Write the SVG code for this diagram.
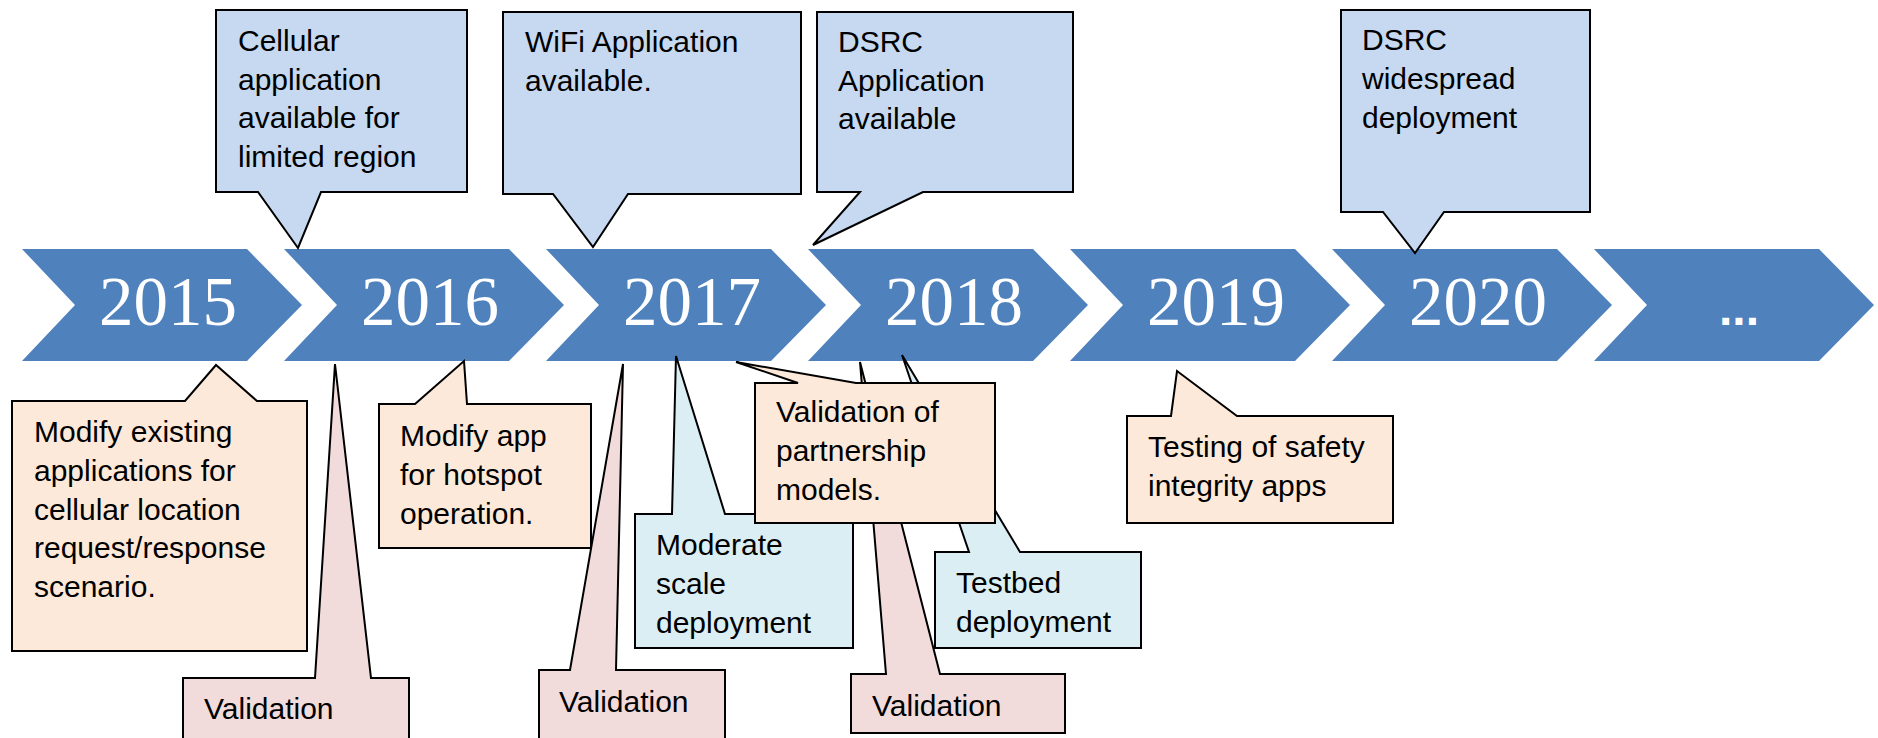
<svg xmlns="http://www.w3.org/2000/svg" width="1878" height="738" viewBox="0 0 1878 738">
<style>
.chev{fill:#4F81BD;}
.yr{font-family:"Liberation Serif",serif;font-size:69px;fill:#FFFFFF;text-anchor:middle;}
.dots{font-family:"Liberation Sans",sans-serif;font-weight:bold;font-size:48px;fill:#FFFFFF;text-anchor:middle;}
.co{stroke:#000000;stroke-width:2;stroke-linejoin:miter;}
.blue{fill:#C6D9F1;}
.peach{fill:#FDE9D9;}
.pink{fill:#F2DCDB;}
.cyan{fill:#DBEEF4;}
.t{font-family:"Liberation Sans",Arial,sans-serif;font-size:30px;fill:#000000;}
</style>
<rect x="0" y="0" width="1878" height="738" fill="#FFFFFF"/>
<g id="timeline">
  <g id="y2015"><path class="chev" d="M22,249 H247 L302,305 L247,361 H22 L75,305 Z"/><text class="yr" x="168" y="325">2015</text></g>
  <g id="y2016"><path class="chev" d="M284,249 H509 L564,305 L509,361 H284 L337,305 Z"/><text class="yr" x="430" y="325">2016</text></g>
  <g id="y2017"><path class="chev" d="M546,249 H771 L826,305 L771,361 H546 L599,305 Z"/><text class="yr" x="692" y="325">2017</text></g>
  <g id="y2018"><path class="chev" d="M808,249 H1033 L1088,305 L1033,361 H808 L861,305 Z"/><text class="yr" x="954" y="325">2018</text></g>
  <g id="y2019"><path class="chev" d="M1070,249 H1295 L1350,305 L1295,361 H1070 L1123,305 Z"/><text class="yr" x="1216" y="325">2019</text></g>
  <g id="y2020"><path class="chev" d="M1332,249 H1557 L1612,305 L1557,361 H1332 L1385,305 Z"/><text class="yr" x="1478" y="325">2020</text></g>
  <g id="ymore"><path class="chev" d="M1594,249 H1819 L1874,305 L1819,361 H1594 L1647,305 Z"/><text class="dots" x="1739" y="325">...</text></g>
</g>
<g id="cellular">
  <path class="co blue" d="M216,10 H467 V192 H321 L298,248 L258,192 H216 Z"/>
  <text class="t" x="238"><tspan x="238" y="51">Cellular</tspan><tspan x="238" y="89.7">application</tspan><tspan x="238" y="128.4">available for</tspan><tspan x="238" y="167">limited region</tspan></text>
</g>
<g id="wifi">
  <path class="co blue" d="M503,12 H801 V194 H628 L593,247 L553,194 H503 Z"/>
  <text class="t" x="525"><tspan x="525" y="52">WiFi Application</tspan><tspan x="525" y="90.5">available.</tspan></text>
</g>
<g id="dsrc-app">
  <path class="co blue" d="M817,12 H1073 V192 H923 L813,245 L860,192 H817 Z"/>
  <text class="t" x="838"><tspan x="838" y="52">DSRC</tspan><tspan x="838" y="90.5">Application</tspan><tspan x="838" y="129">available</tspan></text>
</g>
<g id="dsrc-wide">
  <path class="co blue" d="M1341,10 H1590 V212 H1444 L1415,253 L1383,212 H1341 Z"/>
  <text class="t" x="1362"><tspan x="1362" y="50">DSRC</tspan><tspan x="1362" y="89">widespread</tspan><tspan x="1362" y="128">deployment</tspan></text>
</g>
<g id="validation-2016">
  <path class="co pink" d="M183,750 V678 H315 L335,364 L371,678 H409 V750"/>
  <text class="t" x="204" y="719">Validation</text>
</g>
<g id="validation-2017">
  <path class="co pink" d="M539,750 V670 H570 L623,364 L616,670 H725 V750"/>
  <text class="t" x="559" y="712">Validation</text>
</g>
<g id="validation-2018">
  <path class="co pink" d="M851,733 V674 H886 L860,362 L940,674 H1065 V733 Z"/>
  <text class="t" x="872" y="716">Validation</text>
</g>
<g id="moderate">
  <path class="co cyan" d="M635,514 H672 L676,356 L725,514 H853 V648 H635 Z"/>
  <text class="t" x="656"><tspan x="656" y="555">Moderate</tspan><tspan x="656" y="594">scale</tspan><tspan x="656" y="633">deployment</tspan></text>
</g>
<g id="testbed">
  <path class="co cyan" d="M935,552 H969 L902,355 L1020,552 H1141 V648 H935 Z"/>
  <text class="t" x="956"><tspan x="956" y="593">Testbed</tspan><tspan x="956" y="632">deployment</tspan></text>
</g>
<g id="modify-existing">
  <path class="co peach" d="M12,401 H185 L216,365 L257,401 H307 V651 H12 Z"/>
  <text class="t" x="34"><tspan x="34" y="442">Modify existing</tspan><tspan x="34" y="480.5">applications for</tspan><tspan x="34" y="519.5">cellular location</tspan><tspan x="34" y="558">request/response</tspan><tspan x="34" y="597">scenario.</tspan></text>
</g>
<g id="modify-app">
  <path class="co peach" d="M379,404 H415 L464,361 L467,404 H591 V548 H379 Z"/>
  <text class="t" x="400"><tspan x="400" y="446">Modify app</tspan><tspan x="400" y="485">for hotspot</tspan><tspan x="400" y="523.5">operation.</tspan></text>
</g>
<g id="partnership">
  <path class="co peach" d="M755,383 H798 L736,362 L856,383 H995 V523 H755 Z"/>
  <text class="t" x="776"><tspan x="776" y="422">Validation of</tspan><tspan x="776" y="461">partnership</tspan><tspan x="776" y="500">models.</tspan></text>
</g>
<g id="testing">
  <path class="co peach" d="M1127,416 H1171 L1177,371 L1237,416 H1393 V523 H1127 Z"/>
  <text class="t" x="1148"><tspan x="1148" y="457">Testing of safety</tspan><tspan x="1148" y="495.5">integrity apps</tspan></text>
</g>
</svg>
